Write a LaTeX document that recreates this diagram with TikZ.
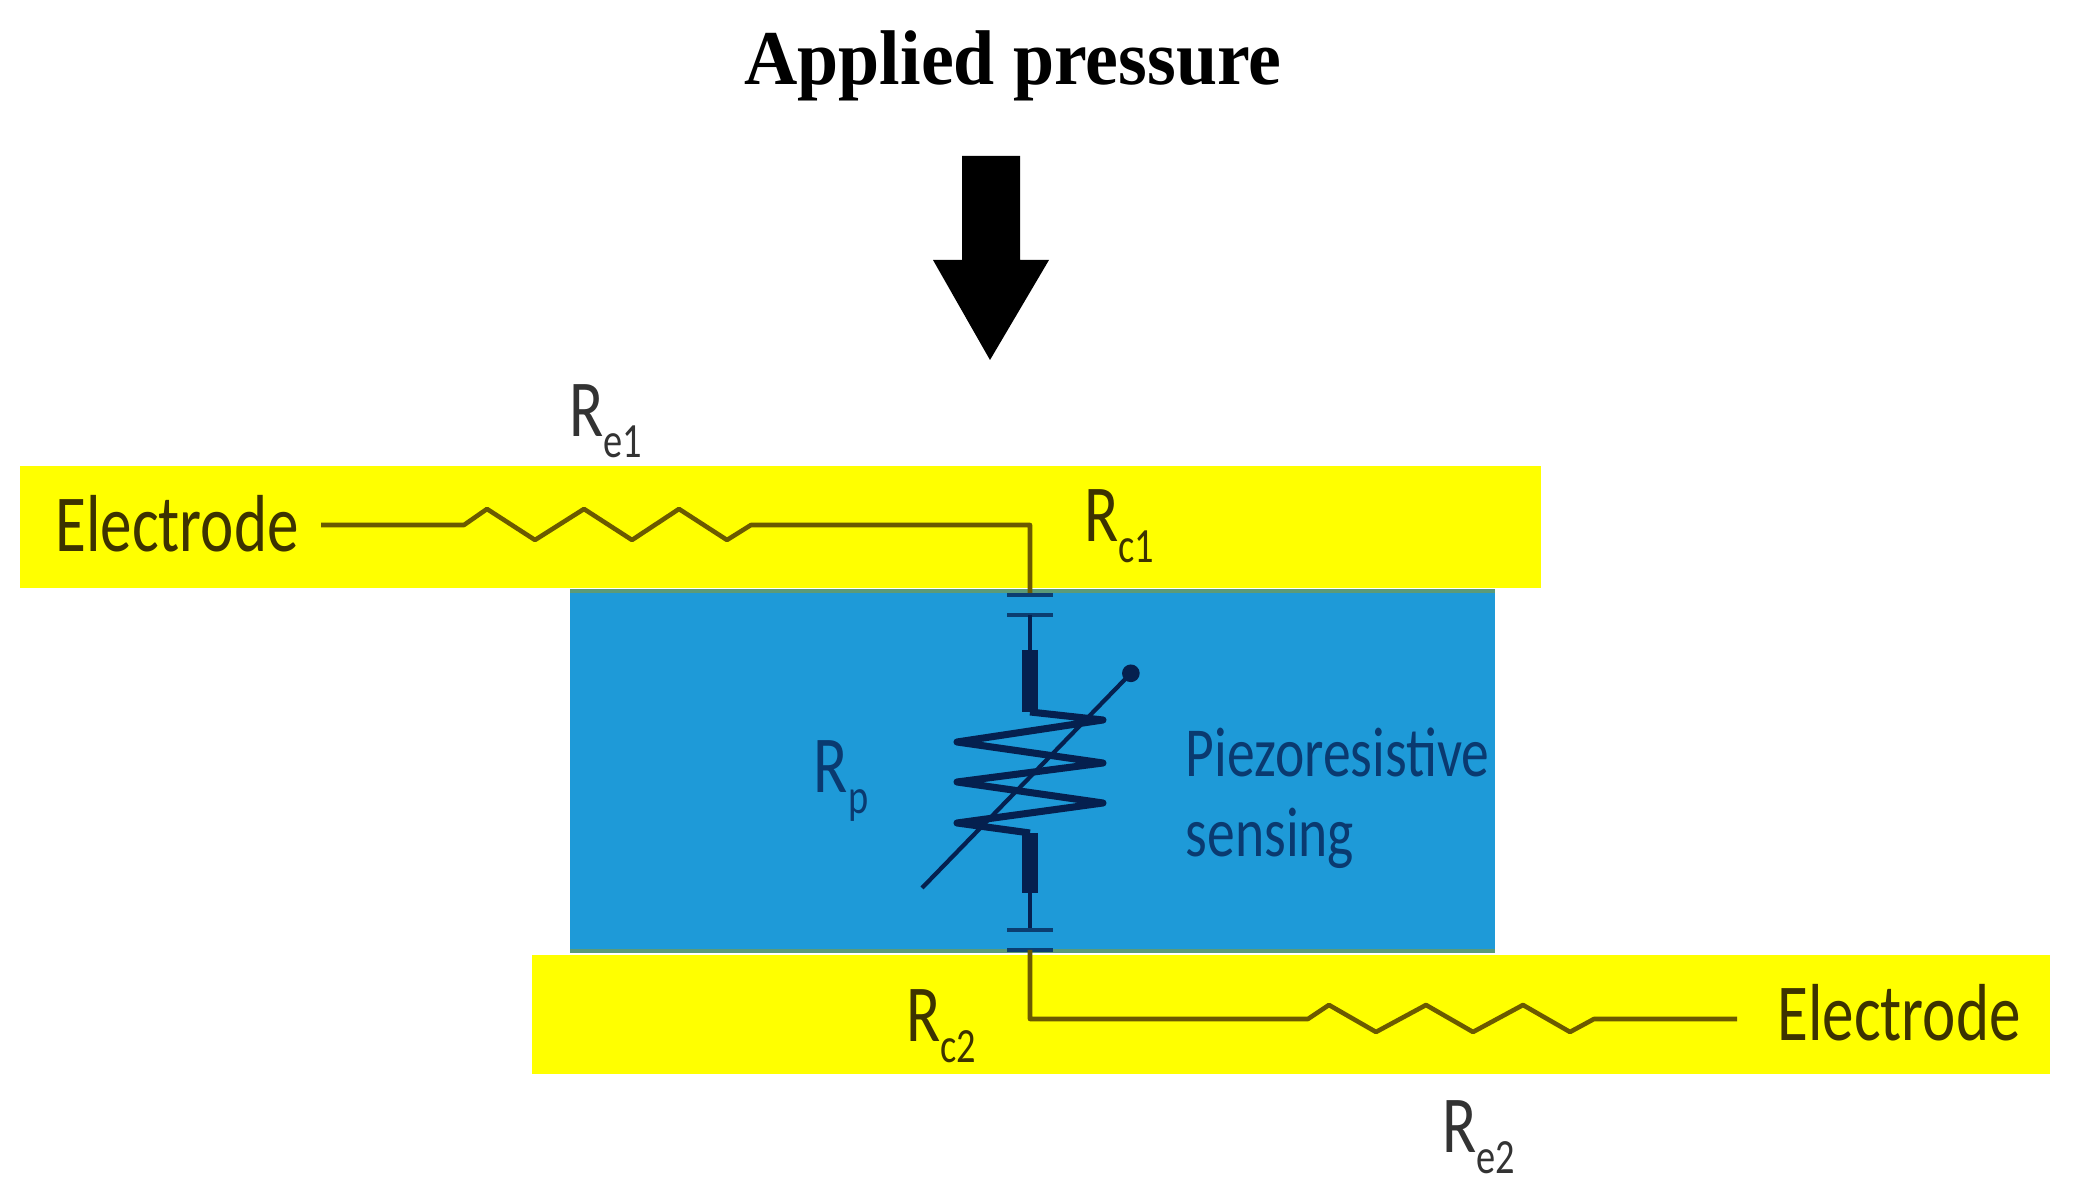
\documentclass[tikz,border=0pt]{standalone}
\usepackage{fontspec,graphicx}
\setmainfont{Liberation Serif}
\newfontfamily\labelfont{Carlito}
\usetikzlibrary{arrows.meta,calc}

\definecolor{electrodeyellow}{HTML}{FFFF00}
\definecolor{sensorblue}{HTML}{1E9AD8}
\definecolor{edgegreen}{HTML}{5B9A78}
\definecolor{wireolive}{HTML}{6B5A00}
\definecolor{wirenavy}{HTML}{05204F}
\definecolor{textolive}{HTML}{3D3300}
\definecolor{textnavy}{HTML}{0A3A70}

\newcommand{\narrow}[1]{\scalebox{0.78}[1]{#1}}
\newcommand{\slim}[1]{\scalebox{0.79}[1]{#1}}
\newcommand{\Rsub}[1]{\narrow{R\raisebox{-0.55ex}{\fontsize{14}{14}\selectfont #1}}}

\tikzset{
  labeltext/.style={font=\labelfont\fontsize{23}{27}\selectfont, inner sep=0pt, text=textolive},
  sensortext/.style={font=\labelfont\fontsize{20}{24}\selectfont, inner sep=0pt, text=textnavy, anchor=west},
  wire/.style={wireolive, line width=1.3pt, line join=round},
  thinwire/.style={wirenavy, line width=1.2pt},
  leadwire/.style={wirenavy, line width=4.4pt},
  plate/.style={wirenavy!75!sensorblue, line width=1.4pt}
}

\begin{document}
\begin{tikzpicture}[x=0.01cm,y=-0.01cm]
\useasboundingbox (0,0) rectangle (2074,1192);

% === Layers ===
\fill[electrodeyellow] (20,466) rectangle (1541,588);
\fill[electrodeyellow] (532,955) rectangle (2050,1074);
\fill[sensorblue] (570,590) rectangle (1495,952);
\draw[edgegreen, line width=1.4pt] (570,591) -- (1495,591);
\draw[edgegreen, line width=1.4pt] (570,951) -- (1495,951);

% === Pressure arrow ===
\node[font=\bfseries\fontsize{21}{25}\selectfont, inner sep=0pt] (pressure) at (1013,66) {\scalebox{1}[1.05]{Applied pressure}};
\fill[black] (962,156) -- (1020,156) -- (1020,260) -- (1049,260) -- (990,360) -- (933,260) -- (962,260) -- cycle;

% === Top wire ===
\coordinate (topstart) at (321,525);
\coordinate (topcorner) at (1030,525);
\coordinate (topplate) at (1030,593);
\draw[wire] (topstart) -- (464,525) -- (487,509) -- (535,540) -- (584,509) -- (632,540)
  -- (679,509) -- (727,540) -- (751,525) -- (topcorner) -- (topplate);

% === Top contact ===
\draw[plate] (1007,595) -- (1053,595);
\draw[plate] (1007,615) -- (1053,615);
\draw[thinwire] (1030,615) -- (1030,650);

% === Sensing resistor ===
\coordinate (leadtop) at (1030,650);
\coordinate (coiltop) at (1030,712);
\coordinate (coilbottom) at (1030,833);
\coordinate (leadbottom) at (1030,893);
\draw[leadwire] (leadtop) -- (coiltop);
\draw[leadwire] (coilbottom) -- (leadbottom);
\draw[wirenavy, line width=2pt, line join=round] (coiltop) -- (1103,720) -- (957,742) -- (1103,763)
  -- (957,782) -- (1103,803) -- (957,823) -- (coilbottom);
\draw[thinwire, -{Circle[length=5pt]}] (922,888) -- (1137,667);

% === Bottom contact ===
\draw[thinwire] (leadbottom) -- (1030,930);
\draw[plate] (1007,930) -- (1053,930);
\draw[plate] (1007,950) -- (1053,950);

% === Bottom wire ===
\coordinate (botplate) at (1030,950);
\coordinate (botcorner) at (1030,1019);
\coordinate (botend) at (1737,1019);
\draw[wire] (botplate) -- (botcorner) -- (1308,1019) -- (1329,1005) -- (1376,1032) -- (1426,1005) -- (1473,1032)
  -- (1523,1005) -- (1570,1032) -- (1594,1019) -- (botend);

% === Labels ===
\node[labeltext] (electrodeleft) at (177,524) {\narrow{Electrode}};
\node[labeltext] (electroderight) at (1899,1013) {\narrow{Electrode}};
\node[labeltext, text=black!80] (re1) at (606,421) {\Rsub{e1}};
\node[labeltext] (rc1) at (1119,526) {\Rsub{c1}};
\node[labeltext, text=textnavy] (rp) at (841,781) {\Rsub{p}};
\node[labeltext] (rc2) at (941,1026) {\Rsub{c2}};
\node[labeltext, text=black!80] (re2) at (1479,1137) {\Rsub{e2}};
\node[sensortext] (piezo) at (1185,752) {\slim{Piezoresistive}};
\node[sensortext] (sensing) at (1185,838) {\slim{sensing}};

\end{tikzpicture}
\end{document}
